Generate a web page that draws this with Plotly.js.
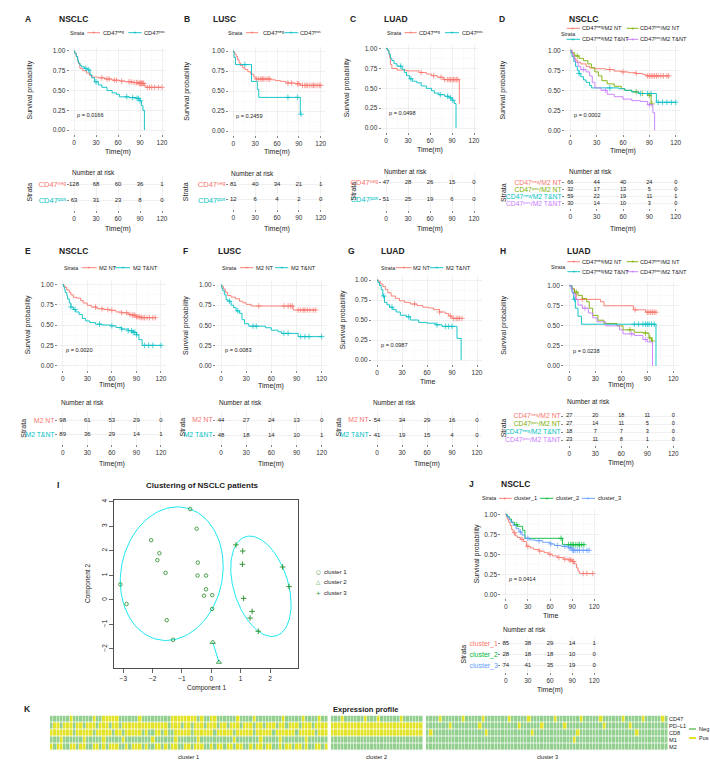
<!DOCTYPE html>
<html>
<head>
<meta charset="utf-8">
<script src="https://cdn.plot.ly/plotly-3.0.1.min.js"></script>
<style>html,body{margin:0;padding:0;background:#fff;}#chart{width:710px;height:784px;}</style>
</head>
<body>
<div id="chart"></div>
<script>
// ================= DATA =================
const timeTicks = [0, 30, 60, 90, 120];

// A: NSCLC by CD47
const A_negTime = [1,3,5,6,8,12,17,21,25,33,42,52,62,70,80,88,96,98];
const A_negSurv = [0.97,0.93,0.87,0.84,0.78,0.75,0.72,0.69,0.67,0.66,0.645,0.63,0.62,0.61,0.60,0.59,0.56,0.54];
const A_negCens = [38,45,48,55,58,65,75,78,82,85,87,89,90,91,92,93,94,95,100,103,106,110,115,120];
const A_posTime = [1,3,5,6,8,10,14,18,22,24,28,33,38,45,52,58,62,75,85,90,92,94,96];
const A_posSurv = [0.97,0.93,0.88,0.85,0.82,0.80,0.78,0.76,0.70,0.66,0.61,0.57,0.54,0.50,0.47,0.45,0.42,0.41,0.40,0.37,0.31,0.25,0];
const A_posCens = [16,20,30,72,80,86,88,90];
const A_negRisk = [128,68,60,36,1];
const A_posRisk = [63,31,23,8,0];

// B: LUSC by CD47
const B_negTime = [1,2,4,6,8,10,13,16,20,24,28,30,52,58,65,72,85,92];
const B_negSurv = [0.98,0.96,0.93,0.89,0.85,0.82,0.79,0.77,0.74,0.71,0.68,0.65,0.64,0.63,0.62,0.60,0.59,0.57];
const B_negCens = [32,35,38,40,42,45,48,50,75,80,88,90,95,98,100,102,105,108,110,112,115,118,120];
const B_posTime = [1,3,25,33,35,92];
const B_posSurv = [0.92,0.83,0.62,0.52,0.42,0.21];
const B_posCens = [16,75,88,93];
const B_negRisk = [81,40,34,21,1];
const B_posRisk = [12,6,4,2,0];

// C: LUAD by CD47
const C_negTime = [2,4,5,6,8,15,28,45,55,62,70,78,100];
const C_negSurv = [0.98,0.94,0.89,0.80,0.75,0.73,0.72,0.70,0.68,0.66,0.64,0.61,0.30];
const C_negCens = [48,65,75,80,84,86,88,90,92,94,96,98];
const C_posTime = [2,4,6,8,11,15,22,25,28,32,36,42,48,55,62,66,72,80,86,90,93,95.5];
const C_posSurv = [0.98,0.93,0.88,0.85,0.81,0.78,0.74,0.70,0.66,0.62,0.59,0.57,0.53,0.50,0.47,0.44,0.42,0.40,0.38,0.35,0.31,0];
const C_posCens = [20,34,74,84,88,91];
const C_negRisk = [47,28,26,15,0];
const C_posRisk = [51,25,19,6,0];

// D: NSCLC by CD47 / M2
const D_1Time = [1,3,5,8,12,18,22,28,40,50,58,66,75,82,86];
const D_1Surv = [0.97,0.93,0.88,0.85,0.83,0.80,0.78,0.77,0.76,0.74,0.73,0.72,0.71,0.70,0.68];
const D_1Cens = [45,60,75,88,90,92,94,96,98,100,103,106,110,112];
const D_2Time = [2,5,10,15,20,24,28,32,36,42,50,58,62,70,78,88,92];
const D_2Surv = [0.97,0.93,0.90,0.87,0.83,0.78,0.73,0.68,0.62,0.58,0.55,0.52,0.50,0.48,0.46,0.44,0.33];
const D_2Cens = [8,75,82,90,93];
const D_3Time = [1,2,4,6,8,10,12,15,18,22,24,55,62,70,78,98];
const D_3Surv = [0.96,0.92,0.86,0.80,0.75,0.71,0.67,0.63,0.60,0.56,0.53,0.52,0.50,0.48,0.46,0.35];
const D_3Cens = [10,45,80,88,92,100,105,110,115,120];
const D_4Time = [2,4,6,9,12,18,22,25,28,35,42,50,60,70,80,88,94,96];
const D_4Surv = [0.95,0.90,0.85,0.80,0.76,0.73,0.68,0.60,0.53,0.50,0.45,0.42,0.39,0.37,0.36,0.32,0.22,0];
const D_4Cens = [15,40,90];
const D_1Risk = [66,44,40,24,0];
const D_2Risk = [32,17,13,5,0];
const D_3Risk = [59,22,19,11,1];
const D_4Risk = [30,14,10,3,0];

// E: NSCLC by M2
const E_1Time = [1,3,5,8,10,13,17,22,25,30,35,42,50,58,65,72,80,85,90,95];
const E_1Surv = [0.98,0.96,0.93,0.90,0.87,0.84,0.83,0.80,0.77,0.74,0.72,0.70,0.69,0.68,0.66,0.65,0.63,0.62,0.60,0.59];
const E_1Cens = [40,48,55,60,72,78,82,85,87,88,90,92,94,96,98,100,103,106,110,113];
const E_2Time = [1,2,3,5,6,8,10,13,16,20,24,28,33,40,48,58,65,72,80,86,90,93,97];
const E_2Surv = [0.97,0.94,0.90,0.86,0.82,0.77,0.72,0.69,0.66,0.63,0.58,0.55,0.53,0.51,0.50,0.49,0.47,0.45,0.43,0.41,0.38,0.32,0.25];
const E_2Cens = [10,15,45,60,72,80,84,86,88,90,100,105,110,120];
const E_1Risk = [98,61,53,29,0];
const E_2Risk = [89,36,29,14,1];

// F: LUSC by M2
const F_1Time = [1,3,5,8,12,17,22,26,30,36,86];
const F_1Surv = [0.98,0.95,0.91,0.87,0.85,0.83,0.80,0.78,0.76,0.74,0.69];
const F_1Cens = [45,75,80,83,85,92,95,98,100,103,106,110,113];
const F_2Time = [1,2,4,6,8,12,15,18,22,25,28,33,53,60,68,72,92];
const F_2Surv = [0.96,0.93,0.88,0.82,0.80,0.75,0.72,0.68,0.65,0.57,0.52,0.49,0.47,0.44,0.42,0.40,0.36];
const F_2Cens = [10,20,38,42,75,80,95,100,105,120];
const F_1Risk = [44,27,24,13,0];
const F_2Risk = [48,18,14,10,1];

// G: LUAD by M2
const G_1Time = [2,4,7,10,13,17,22,27,33,40,48,55,62,68,75,82,86,90];
const G_1Surv = [0.98,0.95,0.92,0.88,0.84,0.80,0.77,0.74,0.72,0.70,0.68,0.66,0.65,0.63,0.60,0.58,0.55,0.52];
const G_1Cens = [45,75,88,92,95,97,99,102];
const G_2Time = [1,3,5,7,9,12,15,19,23,28,35,40,50,60,70,78,96,101];
const G_2Surv = [0.97,0.93,0.88,0.80,0.72,0.69,0.66,0.63,0.60,0.56,0.54,0.50,0.47,0.46,0.44,0.42,0.27,0];
const G_2Cens = [8,18,38,72,82,86,90];
const G_1Risk = [54,34,29,16,0];
const G_2Risk = [41,19,15,4,0];

// H: LUAD by CD47 / M2
const H_1Time = [3,6,8,36,40,74,88];
const H_1Surv = [0.96,0.90,0.83,0.80,0.75,0.70,0.67];
const H_1Cens = [15,76,90,92,94,96,98,100];
const H_2Time = [3,6,10,15,20,23,27,33,40,55,62,75,85,92,95];
const H_2Surv = [0.96,0.92,0.88,0.84,0.80,0.72,0.63,0.57,0.53,0.50,0.45,0.42,0.41,0.35,0.31];
const H_2Cens = [8,70,88,93,96];
const H_3Time = [3,5,7,10,14,100];
const H_3Surv = [0.92,0.83,0.72,0.62,0.52,0];
const H_3Cens = [6,75,80,85,88,90,92,95,98];
const H_4Time = [2,4,7,10,15,22,27,32,42,58,62,75,85,90,96];
const H_4Surv = [0.96,0.90,0.83,0.76,0.72,0.66,0.60,0.55,0.50,0.45,0.40,0.38,0.33,0.30,0];
const H_4Cens = [18,72,88];
const H_1Risk = [27,20,18,11,0];
const H_2Risk = [27,14,11,5,0];
const H_3Risk = [18,7,7,3,0];
const H_4Risk = [23,11,8,1,0];

// J: NSCLC by cluster
const J_1Time = [1,2,4,6,8,10,13,16,20,24,28,33,38,45,52,58,63,70,78,85,90,93,96,98,100];
const J_1Surv = [0.97,0.94,0.90,0.86,0.81,0.77,0.73,0.71,0.69,0.66,0.60,0.58,0.56,0.54,0.52,0.50,0.48,0.46,0.44,0.43,0.41,0.38,0.33,0.29,0.26];
const J_1Cens = [12,22,30,46,60,72,80,86,88,91,92,105,110,118];
const J_2Time = [2,5,8,12,16,23,26,77];
const J_2Surv = [0.97,0.94,0.90,0.87,0.85,0.80,0.70,0.62];
const J_2Cens = [15,75,85,88,90,92,95,98,100,103,106];
const J_3Time = [1,3,5,7,10,14,18,22,26,32,40,50,60,66,75,85,90];
const J_3Surv = [0.98,0.96,0.93,0.90,0.86,0.82,0.78,0.74,0.70,0.68,0.67,0.65,0.63,0.61,0.60,0.58,0.55];
const J_3Cens = [20,30,45,61,70,80,86,88,91,92,94,97,100,105,110,113];
const J_1Risk = [85,38,29,14,1];
const J_2Risk = [28,18,18,10,0];
const J_3Risk = [74,41,35,19,0];

const pValues = {A:'0.0166', B:'0.2459', C:'0.0498', D:'0.0002', E:'0.0020', F:'0.0083', G:'0.0987', H:'0.0238', J:'0.0414'};

const cd47Labels = ['CD47\u207F\u1D49\u1D4D', 'CD47\u1D56\u1D52\u02E2'];
const m2Labels = ['M2 NT', 'M2 T&amp;NT'];
const comboLabels = ['CD47\u207F\u1D49\u1D4D/M2 NT', 'CD47\u1D56\u1D52\u02E2/M2 NT', 'CD47\u207F\u1D49\u1D4D/M2 T&amp;NT', 'CD47\u1D56\u1D52\u02E2/M2 T&amp;NT'];
const clusterLabels = ['cluster_1', 'cluster_2', 'cluster_3'];

// I: clustering (component 1, component 2)
const c1X = [-0.72,-0.50,-2.05,-1.77,-1.84,-0.46,-1.56,-0.47,-0.18,-3.10,-2.89,-0.18,-0.25,0.03,0.03,-1.52,-1.30];
const c1Y = [3.70,2.90,2.43,1.90,1.62,1.52,1.10,0.99,0.99,0.63,-0.17,0.43,0.17,0.19,-0.37,-0.83,-1.63];
const c2X = [0.05,0.26];
const c2Y = [-1.73,-2.54];
const c3X = [0.84,1.07,1.06,2.43,2.65,1.10,1.39,1.32,1.60];
const c3Y = [2.24,1.99,1.45,1.34,0.54,0.06,-0.47,-0.74,-1.28];
const compXTicks = [-3,-2,-1,0,1,2];
const compYTicks = [-2,-1,0,1,2,3,4];

// K: expression profile (1 = Pos, 0 = Neg), rows CD47, PD-L1, CD8, M1, M2
const heatRows = ['CD47', 'PD\u2013L1', 'CD8', 'M1', 'M2'];
const heatClusters = ['cluster 1', 'cluster 2', 'cluster 3'];
const cluster1Profile = [
  '00000 01000 00010 01111 10000 00100 00000 00111 11111 01001 10000 00100 00100 00000 01000 00100 00100',
  '01101 11011 01110 11101 10111 11111 11111 10111 01101 11011 10110 11101 11011 01110 11011 10111 01111',
  '11111 11011 11101 11110 11011 11101 00110 10011 11101 11111 01111 10111 11011 11101 11111 01111 10111',
  '00010 00000 10000 01000 00100 00000 01000 00010 00000 10000 00000 01000 00001 00000 10000 00010 00000',
  '10110 01101 10011 01011 10010 11101 00110 10110 01101 11001 01101 10110 01011 01100 10110 11010 01101'
];
const cluster2Profile = [
  '00010 00000 10001 00000 01000 000',
  '11111 11111 11111 11111 11111 111',
  '11111 11111 11111 11111 11111 111',
  '00000 00000 00000 00000 00000 000',
  '00000 00000 00000 00000 00000 000'
];
const cluster3Profile = [
  '00001 00000 01000 00100 00000 10000 01000 00001 00000 00100 00010 00000 10000 01000 0010',
  '00000 00100 00000 01000 00000 00010 00000 10000 00100 00000 00001 00000 00100 00000 0000',
  '01000 00000 00000 00010 00000 00000 00100 00000 00000 01000 00000 00000 00001 00000 0000',
  '00000 00000 00000 00000 00000 00000 00000 00000 00000 10000 00000 00000 00000 00000 0000',
  '00000 00000 00000 00000 00000 00000 00000 00000 00000 00000 00000 00000 00000 00000 0000'
];

// ================= DRAWING =================
const W = 710, H = 784;
const FONT = 'Liberation Sans, DejaVu Sans, Arial, Helvetica, sans-serif';
const RED = '#F8766D', CYAN = '#00BFC4', OLIVE = '#7CAE00', PURPLE = '#C77CFF', GRN = '#00BA38', BLUE = '#619CFF';
const NEG = '#93d08f', POS = '#e3e32a', PTCOL = '#228B22', ELLCOL = '#00e5ee';
const PX = v => v / W, PY = v => 1 - v / H;

const layout = {
  width: W, height: H, margin: {l:0, r:0, t:0, b:0},
  paper_bgcolor: '#fff', plot_bgcolor: 'rgba(0,0,0,0)', showlegend: false,
  font: {family: FONT, size: 6.5, color: '#222'},
  annotations: [], shapes: []
};
const traces = [];
let axCount = 0;
function newAxes(rect, xo, yo) {
  axCount++;
  const s = axCount === 1 ? '' : String(axCount);
  layout['xaxis' + s] = Object.assign({domain: [PX(rect[0]), PX(rect[1])], anchor: 'y' + s, fixedrange: true}, xo);
  layout['yaxis' + s] = Object.assign({domain: [PY(rect[3]), PY(rect[2])], anchor: 'x' + s, fixedrange: true}, yo);
  return {x: 'x' + s, y: 'y' + s};
}
function ann(x, y, text, size, opts) {
  layout.annotations.push(Object.assign({
    xref: 'paper', yref: 'paper', x: PX(x), y: PY(y), text: text, showarrow: false,
    xanchor: 'center', yanchor: 'middle', borderpad: 0,
    font: {family: FONT, size: size, color: '#222'}
  }, opts || {}));
}
function hline(x0, x1, y, color, w) {
  layout.shapes.push({type: 'line', xref: 'paper', yref: 'paper', x0: PX(x0), x1: PX(x1), y0: PY(y), y1: PY(y), line: {color: color, width: w || 0.9}});
}

const tickFont = {family: FONT, size: 6.5, color: '#333'};
function timeAxis(minor) {
  const a = {range: [-6, 126], tickmode: 'array', tickvals: timeTicks, ticktext: timeTicks.map(String),
    ticks: 'outside', ticklen: 2, tickwidth: 0.6, tickcolor: '#333', tickfont: tickFont,
    showgrid: true, gridcolor: '#e6e6e6', gridwidth: 0.6, zeroline: false, showline: false};
  if (minor) a.minor = {tickmode: 'array', tickvals: [15, 45, 75, 105], showgrid: true, gridcolor: '#f3f3f3', gridwidth: 0.4};
  return a;
}
function survAxis() {
  return {range: [-0.05, 1.05], tickmode: 'array', tickvals: [0, 0.25, 0.5, 0.75, 1], ticktext: ['0.00', '0.25', '0.50', '0.75', '1.00'],
    ticks: 'outside', ticklen: 2, tickwidth: 0.6, tickcolor: '#333', tickfont: tickFont,
    showgrid: true, gridcolor: '#e6e6e6', gridwidth: 0.6, zeroline: false, showline: false,
    minor: {tickmode: 'array', tickvals: [0.125, 0.375, 0.625, 0.875], showgrid: true, gridcolor: '#f3f3f3', gridwidth: 0.4}};
}
function stepXY(times, surv, cens) {
  const end = Math.max(times[times.length - 1], cens.length ? Math.max.apply(null, cens) : 0);
  const x = [0], y = [1];
  times.forEach((t, i) => { x.push(t); y.push(surv[i]); });
  x.push(end); y.push(surv[surv.length - 1]);
  return {x, y};
}
function survAt(times, surv, t) {
  let s = 1;
  for (let i = 0; i < times.length; i++) if (times[i] <= t) s = surv[i];
  return s;
}

function addPanel(P) {
  ann(P.lab[0], P.lab[1], '<b>' + P.letter + '</b>', 8.5);
  ann(P.titleX, P.titleY || P.lab[1], '<b>' + P.title + '</b>', 8.5, {xanchor: 'left'});
  const km = newAxes(P.km, timeAxis(true), survAxis());
  P.curves.forEach(cv => {
    const st = stepXY(cv.t, cv.s, cv.c);
    traces.push({type: 'scatter', mode: 'lines', x: st.x, y: st.y, xaxis: km.x, yaxis: km.y,
      line: {shape: 'hv', color: cv.col, width: 0.9}, hoverinfo: 'skip', cliponaxis: false});
    traces.push({type: 'scatter', mode: 'markers', x: cv.c, y: cv.c.map(t => survAt(cv.t, cv.s, t)),
      xaxis: km.x, yaxis: km.y, hoverinfo: 'skip', cliponaxis: false,
      marker: {symbol: 'cross-thin', size: 4, color: cv.col, line: {width: 0.7, color: cv.col}}});
  });
  layout.annotations.push({xref: km.x, yref: km.y, x: 3, y: 0.19, text: 'p = ' + P.p, showarrow: false,
    xanchor: 'left', yanchor: 'middle', borderpad: 0, font: {family: FONT, size: 5.6, color: '#222'}});
  ann(P.ylabX, (P.km[2] + P.km[3]) / 2, 'Survival probability', 7, {textangle: -90});
  ann((P.km[0] + P.km[1]) / 2, P.xlabY, P.xlab, 7);
  // legend
  ann(P.leg.strata[0], P.leg.strata[1], 'Strata', 5.3, {xanchor: 'left'});
  P.leg.items.forEach((it, i) => {
    const col = P.curves[i].col;
    hline(it[0], it[1], it[3], col, 0.9);
    ann((it[0] + it[1]) / 2, it[3] - 0.3, '+', 6, {font: {family: FONT, size: 6, color: col}});
    ann(it[2], it[3], P.labels[i], 5.7, {xanchor: 'left', font: {family: FONT, size: 5.7, color: '#222'}});
  });
  // risk table
  const n = P.risk.length;
  const rows = P.risk.map((_, i) => n - i);
  const tb = newAxes(P.tab, timeAxis(false), {
    range: [0.4, n + 0.6], tickmode: 'array', tickvals: rows,
    ticktext: P.labels.map((l, i) => '<span style="color:' + P.curves[i].col + '">' + l + '</span>'),
    ticks: 'outside', ticklen: 2, tickwidth: 0.6, tickcolor: '#333', ticklabelstandoff: -1,
    tickfont: {family: FONT, size: P.tabFont, color: '#333'},
    showgrid: true, gridcolor: '#e6e6e6', gridwidth: 0.6, zeroline: false, showline: false});
  P.risk.forEach((r, i) => {
    traces.push({type: 'scatter', mode: 'text', x: timeTicks, y: timeTicks.map(() => rows[i]), text: r.map(String),
      textposition: 'middle center', textfont: {family: FONT, size: n > 3 ? 5.6 : 6, color: '#222'},
      xaxis: tb.x, yaxis: tb.y, hoverinfo: 'skip', cliponaxis: false});
  });
  ann(P.nar[0], P.nar[1], 'Number at risk', 6.5, {xanchor: 'left'});
  ann(P.strataX, (P.tab[2] + P.tab[3]) / 2, 'Strata', 7, {textangle: -90});
  ann((P.tab[0] + P.tab[1]) / 2, P.tabXlabY, 'Time(m)', 7);
}

function cv(t, s, c, col) { return {t: t, s: s, c: c, col: col}; }

const panels = [
  {letter: 'A', lab: [28, 19], title: 'NSCLC', titleX: 58, km: [69.6, 166.4, 47, 134], tab: [69.6, 166.4, 175.3, 209.7],
   ylabX: 30, xlab: 'Time(m)', xlabY: 151.7, tabXlabY: 229, nar: [70.5, 172.7], strataX: 29, tabFont: 7.5, p: pValues.A,
   curves: [cv(A_negTime, A_negSurv, A_negCens, RED), cv(A_posTime, A_posSurv, A_posCens, CYAN)],
   risk: [A_negRisk, A_posRisk], labels: cd47Labels,
   leg: {strata: [69.3, 32.7], items: [[87.3, 100, 101.7, 32.7], [128.3, 141.7, 143.3, 32.7]]}},
  {letter: 'B', lab: [186.7, 19], title: 'LUSC', titleX: 212.3, km: [228.9, 325.1, 47, 135], tab: [228.9, 325.1, 174.9, 209.4],
   ylabX: 186.7, xlab: 'Time(m)', xlabY: 152, tabXlabY: 229, nar: [230, 173], strataX: 185, tabFont: 7.5, p: pValues.B,
   curves: [cv(B_negTime, B_negSurv, B_negCens, RED), cv(B_posTime, B_posSurv, B_posCens, CYAN)],
   risk: [B_negRisk, B_posRisk], labels: cd47Labels,
   leg: {strata: [227.3, 32.7], items: [[246, 258.3, 262.3, 32.7], [284.3, 298.3, 299, 32.7]]}},
  {letter: 'C', lab: [353.3, 19], title: 'LUAD', titleX: 383.3, km: [381.6, 478.4, 44.7, 132], tab: [381.6, 478.4, 172.5, 209.9],
   ylabX: 347, xlab: 'Time(m)', xlabY: 150, tabXlabY: 229, nar: [383.3, 172], strataX: 353.3, tabFont: 7.5, p: pValues.C,
   curves: [cv(C_negTime, C_negSurv, C_negCens, RED), cv(C_posTime, C_posSurv, C_posCens, CYAN)],
   risk: [C_negRisk, C_posRisk], labels: cd47Labels,
   leg: {strata: [385.7, 32.7], items: [[404.3, 416.7, 417.7, 32.7], [445, 459, 461, 32.7]]}},
  {letter: 'D', lab: [501.7, 19], title: 'NSCLC', titleX: 568.3, km: [565, 681, 46.3, 134.3], tab: [565, 681, 178.3, 207.7],
   ylabX: 503.3, xlab: 'Time(m)', xlabY: 150.7, tabXlabY: 229, nar: [568.3, 172], strataX: 503, tabFont: 6.8, p: pValues.D,
   curves: [cv(D_1Time, D_1Surv, D_1Cens, RED), cv(D_2Time, D_2Surv, D_2Cens, OLIVE), cv(D_3Time, D_3Surv, D_3Cens, CYAN), cv(D_4Time, D_4Surv, D_4Cens, PURPLE)],
   risk: [D_1Risk, D_2Risk, D_3Risk, D_4Risk], labels: comboLabels,
   leg: {strata: [560, 34.3], items: [[566.7, 580, 580.7, 28.3], [626.7, 638.3, 639.3, 28.3], [566.7, 580, 580.7, 39.3], [626.7, 638.3, 639.3, 39.3]]}},
  {letter: 'E', lab: [27.7, 251], title: 'NSCLC', titleX: 58, km: [57.8, 165.9, 280.2, 369.8], tab: [57.8, 165.9, 411.5, 443.8],
   ylabX: 28.3, xlab: 'Time(m)', xlabY: 385, tabXlabY: 464.3, nar: [60, 402.3], strataX: 24, tabFont: 6.8, p: pValues.E,
   curves: [cv(E_1Time, E_1Surv, E_1Cens, RED), cv(E_2Time, E_2Surv, E_2Cens, CYAN)],
   risk: [E_1Risk, E_2Risk], labels: m2Labels,
   leg: {strata: [63.3, 267.7], items: [[81.7, 96.7, 98.3, 267.7], [115, 130, 131.7, 267.7]]}},
  {letter: 'F', lab: [185, 251], title: 'LUSC', titleX: 216.7, km: [216, 326.7, 281, 369.7], tab: [216, 326.7, 411, 444],
   ylabX: 186.7, xlab: 'Time(m)', xlabY: 385.7, tabXlabY: 464.3, nar: [218.3, 402.3], strataX: 182, tabFont: 6.8, p: pValues.F,
   curves: [cv(F_1Time, F_1Surv, F_1Cens, RED), cv(F_2Time, F_2Surv, F_2Cens, CYAN)],
   risk: [F_1Risk, F_2Risk], labels: m2Labels,
   leg: {strata: [220.7, 267.7], items: [[240, 253.3, 255, 267.7], [275, 288.3, 290, 267.7]]}},
  {letter: 'G', lab: [351.7, 251], title: 'LUAD', titleX: 380, km: [372, 482, 276, 364], tab: [372, 482, 411, 444],
   ylabX: 343.3, xlab: 'Time', xlabY: 381, tabXlabY: 464.3, nar: [371.7, 402.3], strataX: 338, tabFont: 6.8, p: pValues.G,
   curves: [cv(G_1Time, G_1Surv, G_1Cens, RED), cv(G_2Time, G_2Surv, G_2Cens, CYAN)],
   risk: [G_1Risk, G_2Risk], labels: m2Labels,
   leg: {strata: [380, 267.7], items: [[395.7, 411.7, 412.3, 267.7], [430, 443.3, 445, 267.7]]}},
  {letter: 'H', lab: [503.3, 251], title: 'LUAD', titleX: 566, km: [564.1, 678.5, 281.7, 370], tab: [564.1, 678.5, 411.2, 444.8],
   ylabX: 504, xlab: 'Time(m)', xlabY: 385, tabXlabY: 463.3, nar: [566, 401.7], strataX: 503.3, tabFont: 6.8, p: pValues.H,
   curves: [cv(H_1Time, H_1Surv, H_1Cens, RED), cv(H_2Time, H_2Surv, H_2Cens, OLIVE), cv(H_3Time, H_3Surv, H_3Cens, CYAN), cv(H_4Time, H_4Surv, H_4Cens, PURPLE)],
   risk: [H_1Risk, H_2Risk, H_3Risk, H_4Risk], labels: comboLabels,
   leg: {strata: [550, 266.7], items: [[567.3, 580, 580.7, 261.7], [626.7, 638.3, 639.3, 261.7], [567.3, 580, 580.7, 271.7], [626.7, 638.3, 639.3, 271.7]]}},
  {letter: 'J', lab: [471, 484], title: 'NSCLC', titleX: 500, km: [501.3, 598.7, 510.3, 598.3], tab: [501.3, 598.7, 637.2, 671.8],
   ylabX: 477, xlab: 'Time', xlabY: 615, tabXlabY: 690, nar: [501.7, 629], strataX: 463, tabFont: 7, p: pValues.J,
   curves: [cv(J_1Time, J_1Surv, J_1Cens, RED), cv(J_2Time, J_2Surv, J_2Cens, GRN), cv(J_3Time, J_3Surv, J_3Cens, BLUE)],
   risk: [J_1Risk, J_2Risk, J_3Risk], labels: clusterLabels,
   leg: {strata: [480.7, 498.3], items: [[499, 511.7, 513.3, 498.3], [540, 553.3, 555, 498.3], [581.7, 595, 596.7, 498.3]]}}
];
panels.forEach(addPanel);

// ---------- Panel I ----------
function inv3(m) {
  const [a, b, c] = m[0], [d, e, f] = m[1], [g, h, i] = m[2];
  const A = e * i - f * h, B = -(d * i - f * g), C = d * h - e * g;
  const det = a * A + b * B + c * C;
  return [[A / det, -(b * i - c * h) / det, (b * f - c * e) / det],
          [B / det, (a * i - c * g) / det, -(a * f - c * d) / det],
          [C / det, -(a * h - b * g) / det, (a * e - b * d) / det]];
}
function mvee(xs, ys) {
  // Khachiyan minimum-volume enclosing ellipse (as cluster::ellipsoidhull)
  const n = xs.length;
  let u = new Array(n).fill(1 / n);
  for (let it = 0; it < 20000; it++) {
    const X = [[0,0,0],[0,0,0],[0,0,0]];
    for (let i = 0; i < n; i++) {
      const q = [xs[i], ys[i], 1];
      for (let a = 0; a < 3; a++) for (let b = 0; b < 3; b++) X[a][b] += u[i] * q[a] * q[b];
    }
    const Xi = inv3(X);
    let maxM = -1, j = 0;
    for (let i = 0; i < n; i++) {
      const q = [xs[i], ys[i], 1];
      let m = 0;
      for (let a = 0; a < 3; a++) for (let b = 0; b < 3; b++) m += q[a] * Xi[a][b] * q[b];
      if (m > maxM) { maxM = m; j = i; }
    }
    const step = (maxM - 3) / (3 * (maxM - 1));
    if (step < 1e-9) break;
    u = u.map(v => v * (1 - step)); u[j] += step;
  }
  let cx = 0, cy = 0;
  for (let i = 0; i < n; i++) { cx += u[i] * xs[i]; cy += u[i] * ys[i]; }
  let sxx = 0, syy = 0, sxy = 0;
  for (let i = 0; i < n; i++) { sxx += u[i] * xs[i] * xs[i]; syy += u[i] * ys[i] * ys[i]; sxy += u[i] * xs[i] * ys[i]; }
  sxx -= cx * cx; syy -= cy * cy; sxy -= cx * cy;
  const a = 2 * sxx, b = 2 * sxy, c = 2 * syy;
  const l11 = Math.sqrt(a), l21 = b / l11, l22 = Math.sqrt(Math.max(c - l21 * l21, 0));
  const ex = [], ey = [];
  for (let k = 0; k <= 120; k++) {
    const th = 2 * Math.PI * k / 120;
    ex.push(cx + l11 * Math.cos(th));
    ey.push(cy + l21 * Math.cos(th) + l22 * Math.sin(th));
  }
  return {x: ex, y: ey};
}

const IR = [114, 297.7, 500, 668.3];
const minusLab = v => v < 0 ? '\u2212' + Math.abs(v) : String(v);
const ia = newAxes(IR,
  {range: [-3.317, 2.944], tickmode: 'array', tickvals: compXTicks, ticktext: compXTicks.map(minusLab),
   ticks: 'outside', ticklen: 4, tickwidth: 0.7, tickcolor: '#222', tickfont: {family: FONT, size: 6.5, color: '#222'},
   showgrid: false, zeroline: false, showline: true, linecolor: '#222', linewidth: 0.8, mirror: true},
  {range: [-2.79, 4.07], tickmode: 'array', tickvals: compYTicks, ticktext: compYTicks.map(minusLab),
   tickangle: -90, ticks: 'outside', ticklen: 4, tickwidth: 0.7, tickcolor: '#222', tickfont: {family: FONT, size: 6.5, color: '#222'},
   showgrid: false, zeroline: false, showline: true, linecolor: '#222', linewidth: 0.8, mirror: true});
const e1 = mvee(c1X, c1Y), e3 = mvee(c3X, c3Y);
traces.push({type: 'scatter', mode: 'lines', x: e1.x, y: e1.y, xaxis: ia.x, yaxis: ia.y, line: {color: ELLCOL, width: 0.9}, hoverinfo: 'skip'});
traces.push({type: 'scatter', mode: 'lines', x: e3.x, y: e3.y, xaxis: ia.x, yaxis: ia.y, line: {color: ELLCOL, width: 0.9}, hoverinfo: 'skip'});
traces.push({type: 'scatter', mode: 'lines', x: c2X, y: c2Y, xaxis: ia.x, yaxis: ia.y, line: {color: ELLCOL, width: 0.9}, hoverinfo: 'skip'});
traces.push({type: 'scatter', mode: 'markers', x: c1X, y: c1Y, xaxis: ia.x, yaxis: ia.y, hoverinfo: 'skip',
  marker: {symbol: 'circle-open', size: 3.5, color: PTCOL, line: {width: 0.8, color: PTCOL}}});
traces.push({type: 'scatter', mode: 'markers', x: c2X, y: c2Y, xaxis: ia.x, yaxis: ia.y, hoverinfo: 'skip',
  marker: {symbol: 'triangle-up-open', size: 4.5, color: PTCOL, line: {width: 0.8, color: PTCOL}}});
traces.push({type: 'scatter', mode: 'markers', x: c3X, y: c3Y, xaxis: ia.x, yaxis: ia.y, hoverinfo: 'skip',
  marker: {symbol: 'cross-thin', size: 4, color: PTCOL, line: {width: 0.9, color: PTCOL}}});
ann(58, 485, '<b>I</b>', 8.5);
ann(202, 485, '<b>Clustering of NSCLC patients</b>', 8);
ann(206, 688, 'Component 1', 6.5);
ann(88, 584, 'Component 2', 6.5, {textangle: -90});
const iLegSym = ['\u25CB', '\u25B3', '+'];
['cluster 1', 'cluster 2', 'cluster 3'].forEach((t, i) => {
  const y = [571.7, 582.3, 593.3][i];
  ann(318.3, y, iLegSym[i], 5.5, {font: {family: 'DejaVu Sans', size: 5.5, color: PTCOL}});
  ann(322.5, y, t, 6, {xanchor: 'left'});
});

// ---------- Panel K ----------
const parseBits = s => s.replace(/\s+/g, '').split('').map(Number);
const profiles = [cluster1Profile, cluster2Profile, cluster3Profile];
const z = heatRows.map((_, r) => {
  let row = [];
  profiles.forEach((p, gi) => { if (gi > 0) row.push(null); row = row.concat(parseBits(p[r])); });
  return row;
});
const nCols = z[0].length;
const KR = [50, 668, 715.5, 750.5];
const ka = newAxes(KR,
  {range: [-0.5, nCols - 0.5], showgrid: false, zeroline: false, showticklabels: false, ticks: ''},
  {range: [heatRows.length - 0.5, -0.5], tickmode: 'array', tickvals: heatRows.map((_, i) => i), ticktext: heatRows, side: 'right',
   showgrid: false, zeroline: false, ticks: '', ticklen: 0, tickfont: {family: FONT, size: 5.6, color: '#222'}});
traces.push({type: 'heatmap', z: z, xaxis: ka.x, yaxis: ka.y, zmin: 0, zmax: 1, showscale: false, hoverinfo: 'skip',
  colorscale: [[0, NEG], [0.5, NEG], [0.5, POS], [1, POS]], xgap: 0.5, ygap: 0.8});
let off = 0;
profiles.forEach((p, gi) => {
  const len = parseBits(p[0]).length;
  layout.annotations.push({xref: ka.x, yref: 'paper', x: off + (len - 1) / 2, y: PY(757), text: heatClusters[gi], showarrow: false,
    xanchor: 'center', yanchor: 'middle', borderpad: 0, font: {family: FONT, size: 5.6, color: '#222'}});
  off += len + 1;
});
ann(27, 709, '<b>K</b>', 8.5);
ann(365, 709, '<b>Expression profile</b>', 7.5);
hline(689, 696, 729, NEG, 2);
hline(689, 696, 738, POS, 2);
ann(698, 729, 'Neg', 5.6, {xanchor: 'left'});
ann(698, 738, 'Pos', 5.6, {xanchor: 'left'});

Plotly.newPlot('chart', traces, layout, {staticPlot: true, displayModeBar: false});
</script>
</body>
</html>
